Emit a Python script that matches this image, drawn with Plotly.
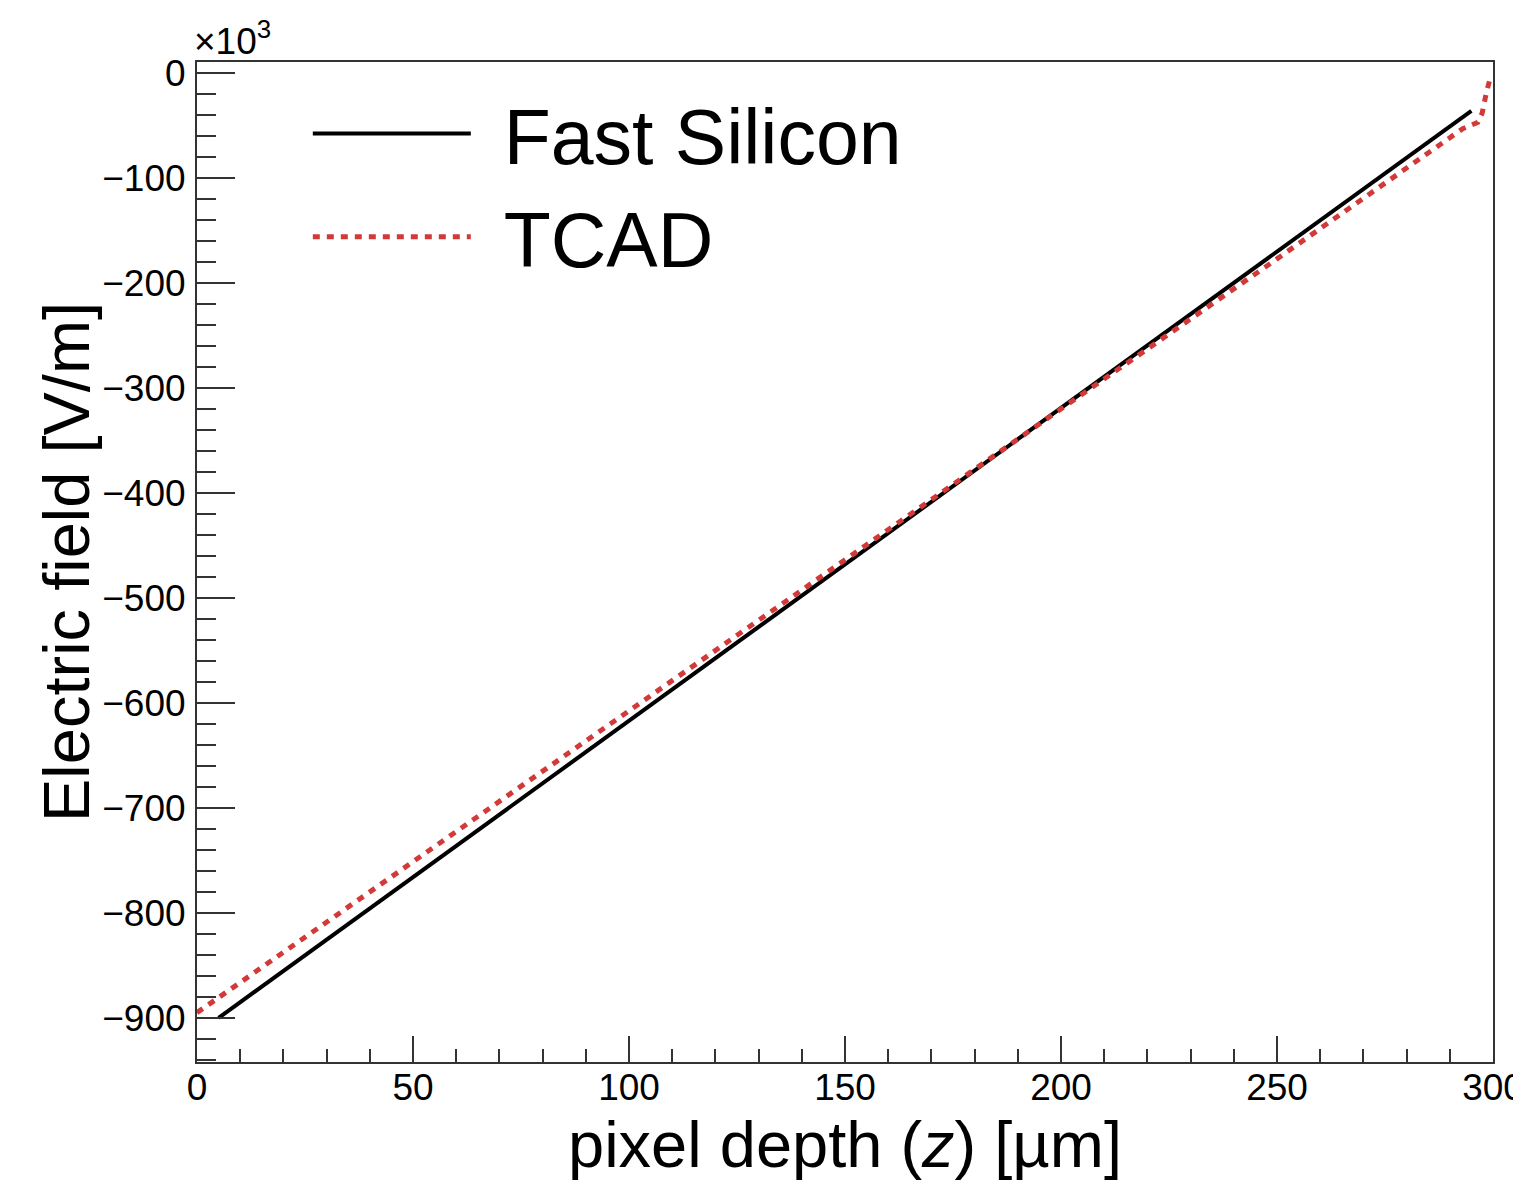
import plotly.graph_objects as go

# Data (electric field in units of 10^3 V/m vs pixel depth in µm)
fast_z = [5, 295]
fast_E = [-900, -36]

tcad_z = [0, 50, 100, 150, 200, 250, 293, 296.5, 297.5, 298.5, 299.5]
tcad_E = [-895, -751, -608, -464, -320, -177, -53, -47, -38, -18, -3]

x_ticks = [0, 50, 100, 150, 200, 250, 300]
y_ticks = [-900, -800, -700, -600, -500, -400, -300, -200, -100, 0]

FONT = "Liberation Sans, Arial, sans-serif"

fig = go.Figure()
fig.add_trace(go.Scatter(x=fast_z, y=fast_E, mode="lines", name="\u00a0\u200aFast Silicon",
                         line=dict(color="black", width=4)))
fig.add_trace(go.Scatter(x=tcad_z, y=tcad_E, mode="lines", name="\u00a0\u200aTCAD",
                         line=dict(color="#d23a3a", width=5, dash="7px,7px")))

axis_common = dict(
    showline=True, linecolor="#333333", linewidth=2, mirror=True,
    showgrid=False, zeroline=False, ticks="inside", tickcolor="#333333",
    tickwidth=2, tickfont=dict(family=FONT, size=37, color="black"),
    automargin=True, ticklabeloverflow="allow",
)

fig.update_xaxes(range=[0, 300], tickvals=x_ticks, ticklen=26, ticklabelstandoff=-8,
                 minor=dict(dtick=10, ticks="inside", ticklen=13, tickcolor="#333333", tickwidth=2),
                 title=dict(text="pixel depth (<i>z</i>) [µm]", font=dict(family=FONT, size=65, color="black"),
                            standoff=4),
                 **axis_common)
fig.update_yaxes(range=[-942, 10.5], tickvals=y_ticks, ticklen=38, ticklabelstandoff=2,
                 minor=dict(dtick=20, ticks="inside", ticklen=19, tickcolor="#333333", tickwidth=2),
                 **axis_common)

# y-axis title
fig.add_annotation(xref="paper", yref="paper", x=0, y=0.5, xanchor="center", yanchor="middle",
                   text="Electric field [V/m]", textangle=-90, showarrow=False,
                   font=dict(family=FONT, size=65, color="black"), xshift=-131)

fig.add_annotation(xref="paper", yref="paper", x=0, y=1, xanchor="left", yanchor="bottom",
                   text="×10<sup>3</sup>", showarrow=False, font=dict(family=FONT, size=37, color="black"),
                   xshift=-5, yshift=-2)

fig.update_layout(
    width=1513, height=1174,
    margin=dict(l=189, r=28, t=54, b=120, autoexpand=False),
    paper_bgcolor="white", plot_bgcolor="white",
    showlegend=True,
    legend=dict(x=0.0855, y=0.985, xanchor="left", yanchor="top",
                font=dict(family=FONT, size=77, color="black"),
                bgcolor="rgba(0,0,0,0)", itemwidth=158, tracegroupgap=10),
)

fig.write_html("out.html")
